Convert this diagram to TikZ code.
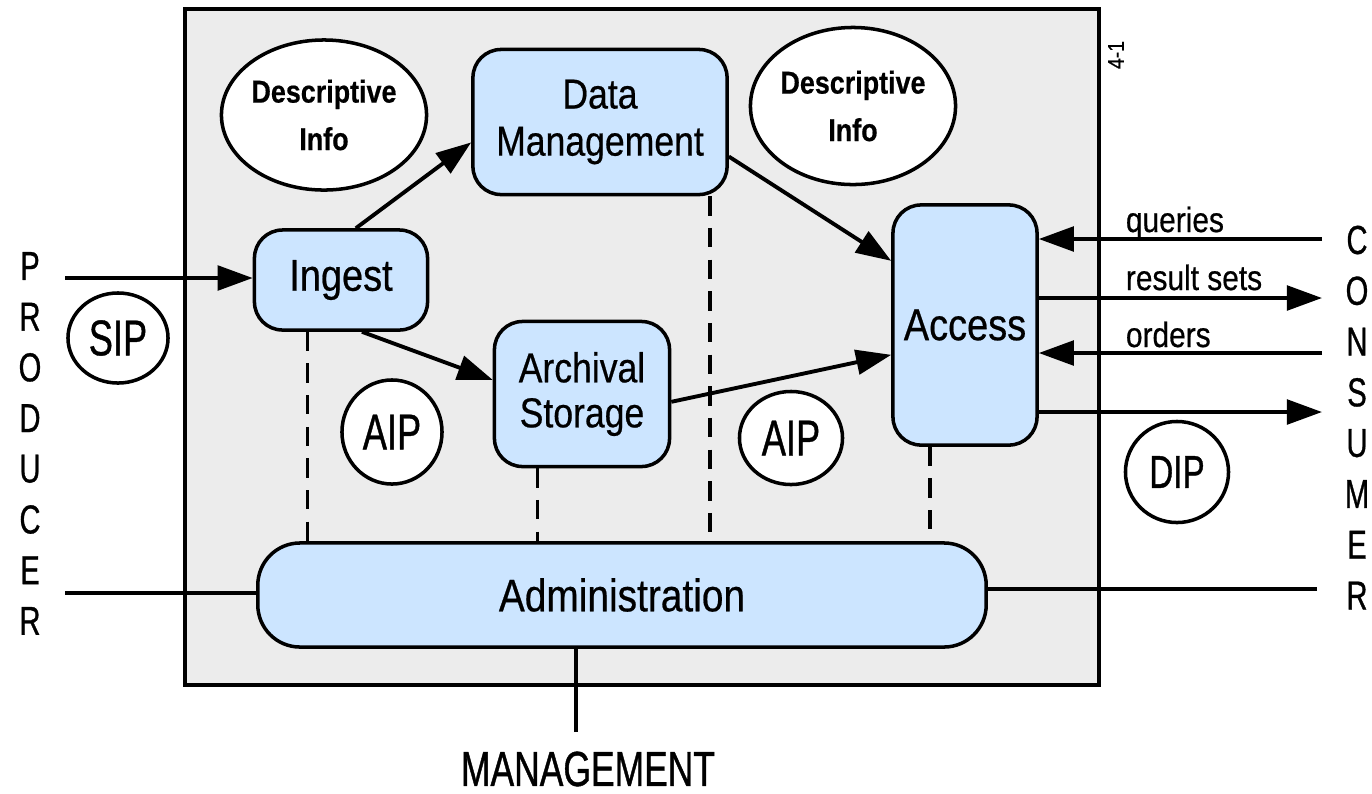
\documentclass[tikz,border=0pt]{standalone}
\usepackage{fontspec}
\setmainfont{Liberation Sans}[FakeStretch=0.85,FakeBold=0.5]
\newfontfamily\tagfont{Liberation Sans}[FakeStretch=0.72,FakeBold=0.8]
\usetikzlibrary{arrows.meta,shapes.geometric}
\definecolor{boxblue}{RGB}{204,229,255}
\definecolor{archgray}{RGB}{236,236,236}

\begin{document}
\begin{tikzpicture}[x=0.01cm,y=-0.01cm,line width=1.1pt,>={Triangle[length=10pt,width=7pt]}]
  \tikzstyle{func}=[draw,fill=boxblue,line width=1pt,rounded corners=8pt,align=center,inner sep=0pt,font=\fontsize{12.7}{14}\selectfont]
  \tikzstyle{info}=[draw,fill=white,ellipse,line width=1pt,align=center,inner sep=0pt,font=\fontsize{9}{13.5}\selectfont\bfseries]
  \tikzstyle{pkg}=[draw,fill=white,ellipse,line width=1pt,inner sep=0pt,minimum width=1cm,font=\tagfont\fontsize{14.3}{16}\selectfont]
  \tikzstyle{letter}=[inner sep=0pt,font=\tagfont\fontsize{11.5}{12}\selectfont]
  \tikzstyle{flow}=[inner sep=0pt,anchor=base west,font=\fontsize{10}{11}\selectfont]
  \tikzstyle{link}=[line width=1pt,dash pattern=on 5.5pt off 3.5pt]

  \useasboundingbox (0,0) rectangle (1372,793);
  \draw[fill=archgray,line width=1.2pt] (185,9) rectangle (1099,685);
  \node[rotate=90,inner sep=0pt,font=\fontsize{6.5}{6.5}\selectfont] (Fig_no) at (1116,55) {4-1};

  % functional entities
  \node[func,minimum width=1.73cm,minimum height=1cm] (Ingest) at (341,280) {Ingest};
  \node[func,minimum width=2.54cm,minimum height=1.45cm,font=\fontsize{11.9}{13.4}\selectfont] (Data_Mgmt) at (600,122) {Data\\Management};
  \node[func,minimum width=1.75cm,minimum height=1.45cm,font=\fontsize{11.9}{12.8}\selectfont] (Archive) at (582,394) {Archival\\Storage};
  \node[func,minimum width=1.44cm,minimum height=2.4cm] (Access) at (965,325) {Access};
  \node[func,minimum width=7.28cm,minimum height=1.04cm,rounded corners=12pt,font=\fontsize{13}{14}\selectfont] (Admin) at (622,595) {Administration};

  % information packages
  \node[info,minimum width=2.04cm,minimum height=1.5cm] (Desc_1) at (324,115) {Descriptive\\Info};
  \node[info,minimum width=2.03cm,minimum height=1.57cm] (Desc_2) at (853,106) {Descriptive\\Info};
  \node[pkg,minimum height=0.9cm] (SIP) at (118,338) {SIP};
  \node[pkg,minimum height=1.04cm] (AIP_1) at (392,432) {AIP};
  \node[pkg,minimum width=1.03cm,minimum height=0.93cm] (AIP_2) at (791,438) {AIP};
  \node[pkg,minimum width=1.03cm,minimum height=1.01cm,font=\tagfont\fontsize{13.1}{15}\selectfont] (DIP) at (1177,472) {DIP};

  % outside parties
  \foreach \l [count=\i from 0] in {P,R,O,D,U,C,E,R}
    \node[letter] (Prod_\i) at (30,266+50.7*\i) {\l};
  \foreach \l [count=\i from 0] in {C,O,N,S,U,M,E,R}
    \node[letter] (Cons_\i) at (1357,240+50.8*\i) {\l};
  \node[letter,font=\tagfont\fontsize{14}{15}\selectfont] (Mgmt) at (588,769) {MANAGEMENT};

  \coordinate (P_in) at (65,278);
  \coordinate (P_adm) at (65,593);
  \coordinate (C_q) at (1322,239);
  \coordinate (C_r) at (1322,298);
  \coordinate (C_o) at (1322,353);
  \coordinate (C_d) at (1322,412);
  \coordinate (C_adm) at (1317,589);
  \coordinate (M_adm) at (576,732);

  \draw[->] (P_in) -- (P_in -| Ingest.west);
  \draw (P_adm) -- (P_adm -| Admin.west);
  \draw[->] (C_q) -- (C_q -| Access.east);
  \draw[<-] (C_r) -- (C_r -| Access.east);
  \draw[->] (C_o) -- (C_o -| Access.east);
  \draw[<-] (C_d) -- (C_d -| Access.east);
  \draw (C_adm) -- (C_adm -| Admin.east);
  \draw (M_adm) -- (M_adm |- Admin.south);

  \node[flow] (L_q) at (1124,232) {queries};
  \node[flow] (L_r) at (1124,290) {result sets};
  \node[flow] (L_o) at (1124,347) {orders};

  % flows inside the archive
  \draw[->] (Ingest.74) -- (Data_Mgmt.189);
  \draw[->] (Ingest.-68) -- (Archive.171);
  \draw[->] (Data_Mgmt.-15) -- (Access.139);
  \draw[->] (Archive.-5) -- (Access.202);

  \draw[link] (Ingest.-123) -- (Ingest.-123 |- Admin.north);
  \draw[link] (Archive.-121) -- (Archive.-121 |- Admin.north);
  \draw[link] (Data_Mgmt.-34) -- (Data_Mgmt.-34 |- Admin.north);
  \draw[link] (Access.-106) -- (Access.-106 |- Admin.north);
\end{tikzpicture}
\end{document}
